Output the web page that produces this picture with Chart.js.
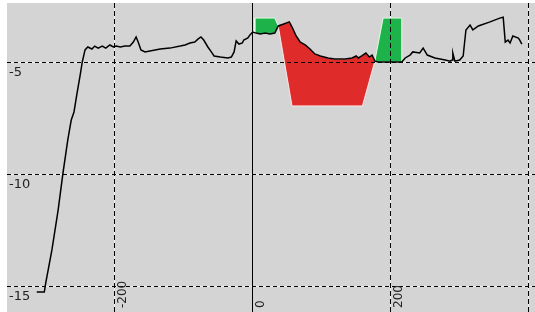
<!DOCTYPE html>
<html>
<head>
<meta charset="utf-8">
<script src="https://cdn.jsdelivr.net/npm/chart.js@4.4.0/dist/chart.umd.min.js"></script>
<style>
	html, body { margin: 0; padding: 0; background: #fff; }
	#wrap { width: 535px; height: 312px; }
</style>
</head>
<body>
<div id="wrap"><canvas id="chart"></canvas></div>
<script>
// tick labels
const xTicks = [-200, 0, 200, 400];
const xLabels = ['-200', '0', '200', ''];
const yTicks = [-5, -10, -15];
const yLabels = ['-5', '-10', '-15'];

// the black trace
const traceX = [-312, -301, -299, -290, -281, -274, -267, -262, -258, -254, -249, -246, -242, -238, -232, -228, -223, -217, -212, -206,
	-201, -197, -191, -184, -177, -172, -168, -165, -161, -155, -148, -133, -119, -104, -97, -90, -83, -78, -74, -70,
	-64, -59, -55, -46, -35, -30, -26, -23, -19, -14, -12, -6, -3, 1, 6, 12, 19, 26, 33, 38,
	46, 54, 58, 64, 70, 77, 84, 91, 99, 110, 120, 135, 145, 151, 154, 159, 165, 170, 174, 178,
	183, 193, 207, 217, 222, 229, 233, 243, 248, 254, 265, 280, 287, 290, 291, 294, 301, 306, 310, 316,
	320, 328, 345, 359, 364, 367, 371, 374, 378, 386, 388, 391];
const traceY = [-15.27, -15.27, -14.87, -13.39, -11.61, -9.96, -8.48, -7.59, -7.23, -6.47, -5.58, -5.0, -4.46, -4.33, -4.42, -4.29, -4.38, -4.29, -4.38, -4.24,
	-4.33, -4.29, -4.33, -4.29, -4.29, -4.11, -3.88, -4.11, -4.46, -4.55, -4.51, -4.42, -4.38, -4.29, -4.24, -4.15, -4.11, -3.97, -3.88, -4.02,
	-4.33, -4.55, -4.73, -4.78, -4.82, -4.78, -4.55, -4.06, -4.2, -4.15, -4.02, -3.93, -3.79, -3.66, -3.71, -3.75, -3.71, -3.75, -3.71, -3.39,
	-3.3, -3.21, -3.44, -3.84, -4.11, -4.24, -4.42, -4.64, -4.73, -4.82, -4.87, -4.87, -4.82, -4.73, -4.82, -4.73, -4.6, -4.78, -4.69, -4.96,
	-5.0, -5.0, -5.0, -5.0, -4.82, -4.69, -4.55, -4.6, -4.38, -4.69, -4.82, -4.91, -4.96, -4.91, -4.6, -4.96, -4.91, -4.73, -3.57, -3.35,
	-3.57, -3.39, -3.21, -3.04, -3.0, -4.11, -4.02, -4.15, -3.84, -3.93, -4.02, -4.2];

// filled zones: range along the trace, then the outer corners
const greenARange = [4, 38];
const greenAEdge = [[33, -3.04], [4, -3.04], [4, -3.70]];
const redRange = [38, 178];
const redEdge = [[160, -6.96], [58, -6.96]];
const greenBRange = [178, 217];
const greenBEdge = [[217, -3.04], [190, -3.04]];

const tracePoints = traceX.map((x, i) => ({ x: x, y: traceY[i] }));

function zone(range, edge) {
	const pts = tracePoints.filter(p => p.x >= range[0] && p.x <= range[1]);
	edge.forEach(e => pts.push({ x: e[0], y: e[1] }));
	pts.push(pts[0]);
	return pts;
}

const plotBg = {
	id: 'plotBg',
	beforeDraw(chart) {
		const { ctx, chartArea: a, scales } = chart;
		ctx.save();
		ctx.fillStyle = '#d4d4d4';
		ctx.fillRect(a.left, a.top, a.right - a.left, a.bottom - a.top);
		// light line under the dashed grid
		ctx.strokeStyle = 'rgba(255,255,255,0.7)';
		ctx.lineWidth = 1;
		xTicks.forEach(v => {
			if (v === 0) return;
			const px = Math.round(scales.x.getPixelForValue(v)) + 0.5;
			ctx.beginPath(); ctx.moveTo(px, a.top); ctx.lineTo(px, a.bottom); ctx.stroke();
		});
		yTicks.forEach(v => {
			const py = Math.round(scales.y.getPixelForValue(v)) + 0.5;
			ctx.beginPath(); ctx.moveTo(a.left, py); ctx.lineTo(a.right, py); ctx.stroke();
		});
		ctx.restore();
	}
};

const tickText = {
	id: 'tickText',
	afterDraw(chart) {
		const { ctx, chartArea: a, scales } = chart;
		ctx.save();
		ctx.fillStyle = '#222';
		ctx.font = '13px "DejaVu Sans"';
		ctx.textAlign = 'left';
		ctx.textBaseline = 'middle';
		yTicks.forEach((v, i) => {
			ctx.fillText(yLabels[i], a.left + 2, scales.y.getPixelForValue(v) + 11);
		});
		ctx.font = '12px "DejaVu Sans"';
		ctx.textBaseline = 'top';
		xTicks.forEach((v, i) => {
			if (!xLabels[i]) return;
			ctx.save();
			ctx.translate(scales.x.getPixelForValue(v) + 3, a.bottom - 4);
			ctx.rotate(-Math.PI / 2);
			ctx.fillText(xLabels[i], 0, 0);
			ctx.restore();
		});
		ctx.restore();
	}
};

new Chart(document.getElementById('chart'), {
	type: 'line',
	data: {
		datasets: [{
			label: 'trace',
			data: tracePoints,
			borderColor: '#000',
			borderWidth: 1.5,
			pointRadius: 0,
			fill: false,
			tension: 0,
			order: 0
		}, {
			label: 'red',
			data: zone(redRange, redEdge),
			borderColor: 'rgba(255,240,240,0.9)',
			borderWidth: 1,
			backgroundColor: '#e02b2b',
			pointRadius: 0,
			fill: 'shape',
			order: 1
		}, {
			label: 'greenA',
			data: zone(greenARange, greenAEdge),
			borderColor: 'rgba(235,255,235,0.9)',
			borderWidth: 1,
			backgroundColor: '#1db34a',
			pointRadius: 0,
			fill: 'shape',
			order: 1
		}, {
			label: 'greenB',
			data: zone(greenBRange, greenBEdge),
			borderColor: 'rgba(235,255,235,0.9)',
			borderWidth: 1,
			backgroundColor: '#1db34a',
			pointRadius: 0,
			fill: 'shape',
			order: 1
		}]
	},
	options: {
		responsive: true,
		maintainAspectRatio: false,
		animation: false,
		devicePixelRatio: 1,
		layout: { padding: { left: 7, top: 3, right: 0, bottom: 0 } },
		plugins: {
			legend: { display: false },
			tooltip: { enabled: false }
		},
		scales: {
			x: {
				type: 'linear',
				min: -355.1,
				max: 410.1,
				afterBuildTicks: s => { s.ticks = xTicks.map(v => ({ value: v })); },
				ticks: { display: false },
				grid: { color: '#000', lineWidth: 1, drawTicks: false, z: 1 },
				border: { display: false, dash: ctx => ctx.tick && ctx.tick.value === 0 ? [] : [5, 3] }
			},
			y: {
				type: 'linear',
				min: -16.16,
				max: -2.366,
				afterBuildTicks: s => { s.ticks = yTicks.map(v => ({ value: v })); },
				ticks: { display: false },
				grid: { color: '#000', lineWidth: 1, drawTicks: false, z: 1 },
				border: { display: false, dash: [4, 3] }
			}
		}
	},
	plugins: [plotBg, tickText]
});
</script>
</body>
</html>
